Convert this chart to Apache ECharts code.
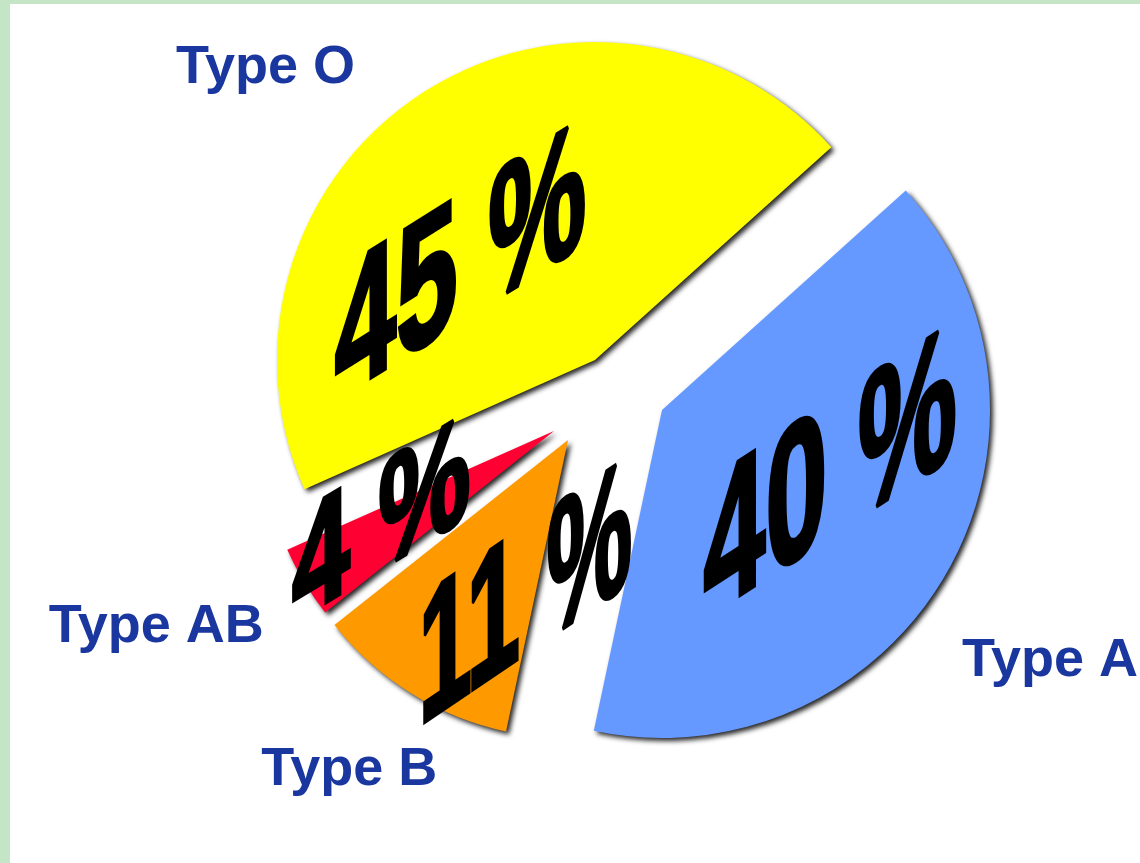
<!DOCTYPE html>
<html>
<head>
<meta charset="utf-8">
<script src="https://cdn.jsdelivr.net/npm/echarts@6/dist/echarts.min.js"></script>
<style>
html, body { margin: 0; padding: 0; background: #ffffff; }
#chart { position: absolute; left: 0; top: 0; width: 1140px; height: 863px; }
.strip { position: absolute; background: #c5e6c6; }
</style>
</head>
<body>
<div id="chart"></div>
<div class="strip" style="left:0;top:0;width:1140px;height:4px"></div>
<div class="strip" style="left:0;top:0;width:10px;height:863px"></div>
<script>
// ---- data ----
const categories = ['Type A', 'Type B', 'Type AB', 'Type O'];
const shares = [40, 11, 4, 45];

// ---- styling / layout (not data) ----
const sliceColors = ['#6699ff', '#ff9900', '#ff0033', '#ffff00'];
const sliceCenters = [[662, 410], [568, 440], [554, 431], [595, 360]];
const sliceRadius = [328, 298, 292, 318];
const labelCenter = [628, 400];
const pctShift = [[92, 30], [-22, 48], [-145, -22], [-122, -30]];
const pctFont = [195, 185, 152, 184];
const pctScaleX = [0.57, 0.52, 0.68, 0.6];
const pctSkewDeg = [33, 34, 31, 32];
const nameShift = [[-5, 15], [-19, -49], [-50, -28], [-94, 82]];
const START = 42;

const chart = echarts.init(document.getElementById('chart'), null, { renderer: 'canvas' });

const series = [];
categories.forEach(function (cat, i) {
  series.push({
    type: 'pie',
    silent: true,
    animation: false,
    z: 2,
    center: sliceCenters[i],
    radius: sliceRadius[i],
    startAngle: START,
    clockwise: true,
    avoidLabelOverlap: false,
    label: { show: false },
    labelLine: { show: false },
    emphasis: { disabled: true },
    data: categories.map(function (n, j) {
      return {
        name: n,
        value: shares[j],
        itemStyle: j === i ? {
          color: sliceColors[j],
          shadowBlur: 5,
          shadowColor: 'rgba(0,0,0,0.85)',
          shadowOffsetX: 3,
          shadowOffsetY: 3
        } : { opacity: 0 }
      };
    })
  });
});

// percentage labels
series.push({
  type: 'pie',
  silent: true,
  animation: false,
  z: 5,
  center: labelCenter,
  radius: 340,
  startAngle: START,
  clockwise: true,
  avoidLabelOverlap: false,
  itemStyle: { color: 'rgba(0,0,0,0)', borderWidth: 0 },
  emphasis: { disabled: true },
  labelLine: { show: false },
  label: {
    show: true,
    position: 'inside',
    formatter: function (p) { return p.value + ' %'; },
    color: '#000000',
    opacity: 1,
    fontWeight: 'bold',
    textBorderColor: '#000000',
    textBorderWidth: 5,
    fontFamily: '"Liberation Sans", Arial, sans-serif'
  },
  labelLayout: function (params) {
    return { dx: pctShift[params.dataIndex][0], dy: pctShift[params.dataIndex][1] };
  },
  data: categories.map(function (n, j) {
    return { name: n, value: shares[j], label: { fontSize: pctFont[j] } };
  })
});

// category name labels
series.push({
  type: 'pie',
  silent: true,
  animation: false,
  z: 5,
  center: labelCenter,
  radius: 980,
  startAngle: START,
  clockwise: true,
  avoidLabelOverlap: false,
  itemStyle: { color: 'rgba(0,0,0,0)', borderWidth: 0 },
  emphasis: { disabled: true },
  labelLine: { show: false },
  label: {
    show: true,
    position: 'inside',
    formatter: '{b}',
    color: '#1a37a0',
    opacity: 1,
    fontSize: 54,
    fontWeight: 'bold',
    fontFamily: '"Liberation Sans", Arial, sans-serif'
  },
  labelLayout: function (params) {
    return { dx: nameShift[params.dataIndex][0], dy: nameShift[params.dataIndex][1] };
  },
  data: categories.map(function (n, j) { return { name: n, value: shares[j] }; })
});

chart.setOption({
  backgroundColor: '#ffffff',
  animation: false,
  series: series
});

// give the big percentage labels the sheared look of the original
function shearLabels() {
  const zr = chart.getZr();
  const list = zr.storage.getDisplayList(true, true);
  const texts = shares.map(function (v) { return v + ' %'; });
  list.forEach(function (el) {
    const tc = el.getTextContent && el.getTextContent();
    if (!tc || !tc.style) return;
    const idx = texts.indexOf(tc.style.text);
    if (idx < 0) return;
    tc.skewY = pctSkewDeg[idx] * Math.PI / 180;
    tc.scaleX = pctScaleX[idx];
    tc.markRedraw();
    el.markRedraw();
  });
  zr.refreshImmediately();
}
shearLabels();
</script>
</body>
</html>
